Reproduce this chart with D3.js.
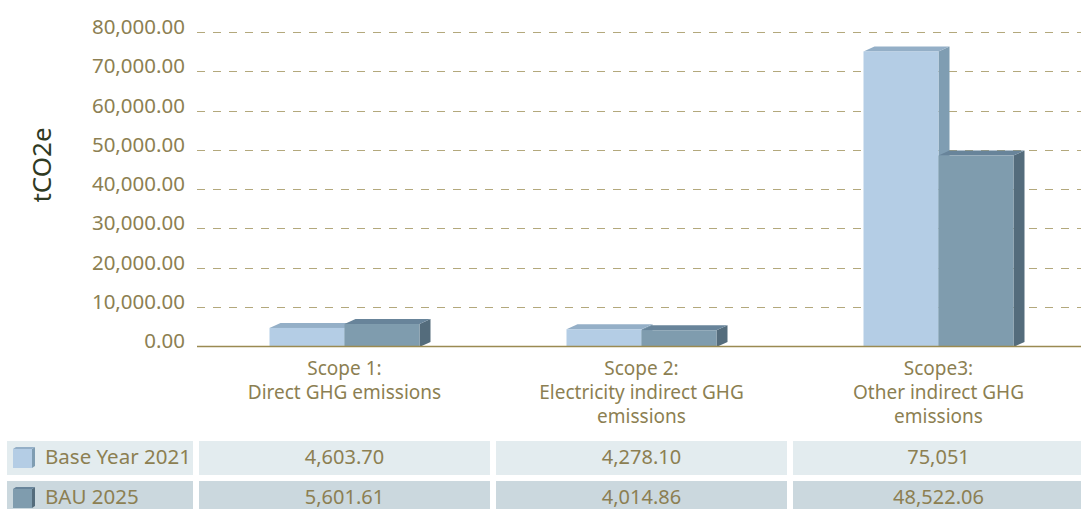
<!DOCTYPE html>
<html>
<head>
<meta charset="utf-8">
<script src="https://cdn.jsdelivr.net/npm/d3@7/dist/d3.min.js"></script>
<style>
  html, body { margin: 0; padding: 0; background: #ffffff; }
  svg { display: block; font-family: "Noto Sans", "Noto Sans CJK KR", sans-serif; }
</style>
</head>
<body>
<svg id="chart" width="1081" height="509"></svg>
<script>
// Emission scopes and the two reporting series
const categories = [
  ["Scope 1:", "Direct GHG emissions"],
  ["Scope 2:", "Electricity indirect GHG", "emissions"],
  ["Scope3:", "Other indirect GHG", "emissions"]
];
const seriesNames = ["Base Year 2021", "BAU 2025"];
const baseYear2021 = [4603.70, 4278.10, 75051];
const bau2025 = [5601.61, 4014.86, 48522.06];
const baseYear2021Labels = ["4,603.70", "4,278.10", "75,051"];
const bau2025Labels = ["5,601.61", "4,014.86", "48,522.06"];
const yTicks = [0, 10000, 20000, 30000, 40000, 50000, 60000, 70000, 80000];

const series = [
  { name: seriesNames[0], values: baseYear2021, labels: baseYear2021Labels,
    front: "#b4cde5", side: "#7f9db2", top: "#94afc7", row: "#e3ecef" },
  { name: seriesNames[1], values: bau2025, labels: bau2025Labels,
    front: "#7f9cae", side: "#546c7c", top: "#68849a", row: "#cbd8de" }
];

const svg = d3.select("#chart");
const textColor = "#8c7f52";

const plotLeft = 197, plotRight = 1081;
const y = d3.scaleLinear().domain([0, 80000]).range([346, 32]);
const x0 = d3.scaleBand().domain(d3.range(categories.length)).range([196, 1087]);
const x1 = d3.scaleBand().domain(d3.range(series.length)).range([-75, 75]);
const depthX = 11, depthY = 5;

// Dashed gridlines
svg.append("g").selectAll("line")
  .data(yTicks.filter(d => d > 0))
  .join("line")
  .attr("x1", plotLeft).attr("x2", plotRight)
  .attr("y1", d => Math.round(y(d)) + 0.5).attr("y2", d => Math.round(y(d)) + 0.5)
  .attr("stroke", "#b3a87c")
  .attr("stroke-width", 1)
  .attr("stroke-dasharray", "8,8");

// Y tick labels
const fmt = d3.format(",.2f");
svg.append("g").selectAll("text")
  .data(yTicks)
  .join("text")
  .attr("x", 185)
  .attr("y", d => y(d) - 5)
  .attr("dy", "0.35em")
  .attr("text-anchor", "end")
  .attr("fill", textColor)
  .attr("font-size", 20.5)
  .text(d => fmt(d));

// Y axis title
svg.append("text")
  .attr("transform", "translate(51,165) rotate(-90)")
  .attr("text-anchor", "middle")
  .attr("fill", "#2f3a22")
  .attr("font-size", 26)
  .text("tCO2e");

// 3D columns
const bars = svg.append("g");
series.forEach((s, si) => {
  s.values.forEach((v, ci) => {
    const cx = x0(ci) + x0.bandwidth() / 2;
    const xl = cx + x1(si);
    const xr = xl + x1.bandwidth();
    const yt = y(v);
    const yb = y(0) + 1;
    const g = bars.append("g");
    // side face
    g.append("path")
      .attr("d", `M${xr},${yt} L${xr + depthX},${yt - depthY} L${xr + depthX},${yb - depthY} L${xr},${yb} Z`)
      .attr("fill", s.side);
    // top face
    g.append("path")
      .attr("d", `M${xl},${yt} L${xl + depthX},${yt - depthY} L${xr + depthX},${yt - depthY} L${xr},${yt} Z`)
      .attr("fill", s.top);
    // front face
    g.append("rect")
      .attr("x", xl).attr("y", yt)
      .attr("width", xr - xl).attr("height", yb - yt)
      .attr("fill", s.front);
  });
});

// Baseline
svg.append("line")
  .attr("x1", plotLeft).attr("x2", plotRight)
  .attr("y1", Math.round(y(0)) + 0.5).attr("y2", Math.round(y(0)) + 0.5)
  .attr("stroke", "#9a8a52").attr("stroke-width", 1.5);

// Category labels
const cat = svg.append("g").selectAll("text")
  .data(categories)
  .join("text")
  .attr("x", (d, i) => x0(i) + x0.bandwidth() / 2)
  .attr("y", 375)
  .attr("text-anchor", "middle")
  .attr("fill", textColor)
  .attr("font-size", 19);
cat.selectAll("tspan")
  .data(d => d)
  .join("tspan")
  .attr("x", function () { return d3.select(this.parentNode).attr("x"); })
  .attr("dy", (d, i) => i === 0 ? 0 : 24)
  .text(d => d);

// Data table with legend keys
const rowTop = [441, 481], rowH = 34;
const table = svg.append("g");
series.forEach((s, si) => {
  const ry = rowTop[si];
  table.append("rect")
    .attr("x", 7).attr("y", ry).attr("width", 186).attr("height", rowH)
    .attr("fill", s.row);
  // legend key cube
  const kx = 13, ky = ry + 8, ks = 19;
  table.append("path")
    .attr("d", `M${kx + ks},${ky} L${kx + ks + 3},${ky - 2} L${kx + ks + 3},${ky + ks - 2} L${kx + ks},${ky + ks} Z`)
    .attr("fill", s.side);
  table.append("path")
    .attr("d", `M${kx},${ky} L${kx + 3},${ky - 2} L${kx + ks + 3},${ky - 2} L${kx + ks},${ky} Z`)
    .attr("fill", s.top);
  table.append("rect")
    .attr("x", kx).attr("y", ky).attr("width", ks).attr("height", ks)
    .attr("fill", s.front);
  table.append("text")
    .attr("x", 45).attr("y", ry + rowH / 2 - 1)
    .attr("dy", "0.35em")
    .attr("fill", textColor)
    .attr("font-size", 20.5)
    .text(s.name);
  s.labels.forEach((lab, ci) => {
    const cx = x0(ci) + x0.bandwidth() / 2;
    table.append("rect")
      .attr("x", x0(ci) + 3).attr("y", ry)
      .attr("width", x0.bandwidth() - 6).attr("height", rowH)
      .attr("fill", s.row);
    table.append("text")
      .attr("x", cx).attr("y", ry + rowH / 2 - 1)
      .attr("dy", "0.35em")
      .attr("text-anchor", "middle")
      .attr("fill", textColor)
      .attr("font-size", 20)
      .text(lab);
  });
});
</script>
</body>
</html>
